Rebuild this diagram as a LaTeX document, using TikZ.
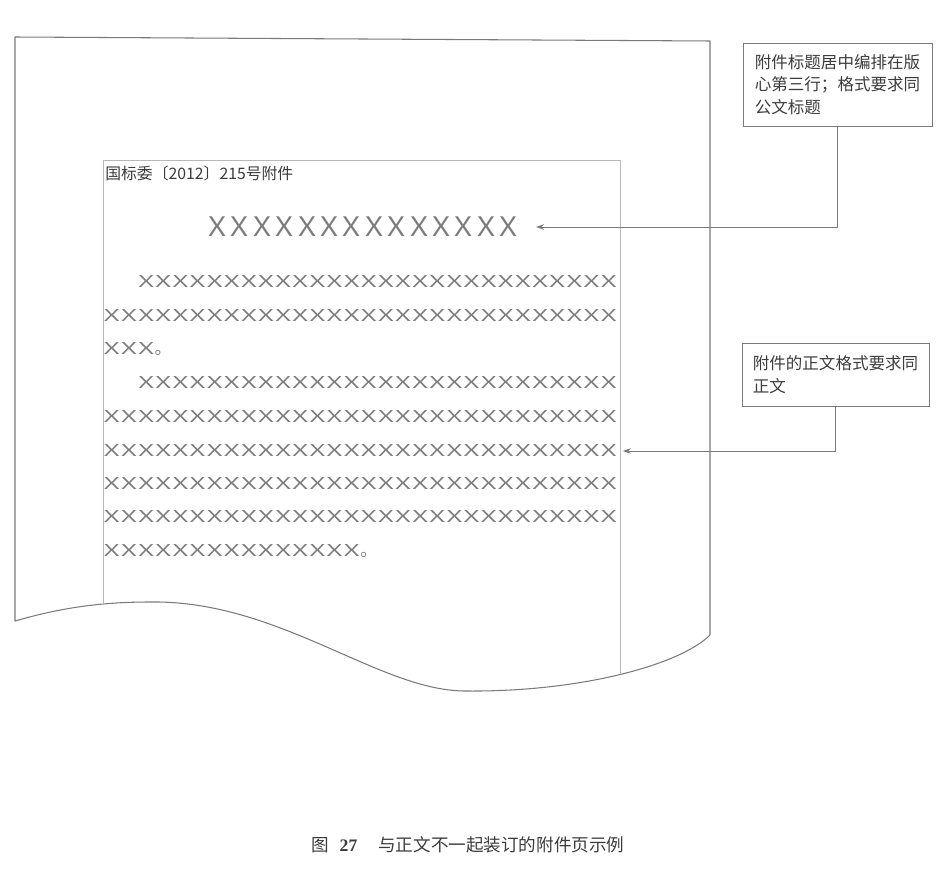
\documentclass[tikz,border=0pt]{standalone}
\usepackage{fontspec}
\usepackage{graphicx}
\usepackage{tikz}
\usetikzlibrary{arrows.meta}
\newfontfamily\cjk{Noto Sans CJK SC}
\newfontfamily\capfont{Liberation Serif}
\definecolor{cline}{HTML}{7A7A7A}
\definecolor{cfaint}{HTML}{B8B8B8}
\definecolor{ctext}{HTML}{3C3C3C}
\definecolor{cx}{HTML}{7C7C7C}
\newcommand\xc{\makebox[1em]{\scalebox{1.45}[0.95]{Ｘ}}}
\newcommand\xt{\makebox[1em]{\scalebox{1.25}[1.2]{Ｘ}}}
\newcommand\Xfive{\xc\xc\xc\xc\xc}
\newcommand\Xten{\Xfive\Xfive}

\begin{document}
\begin{tikzpicture}[x=0.02cm, y=-0.02cm,
 pg/.style={draw=cline, line width=0.6pt, line join=round},
 blk/.style={draw=cfaint, line width=0.4pt},
 hd/.style={anchor=west, inner sep=0pt, text=ctext, font=\cjk\fontsize{9}{11}\selectfont},
 ttl/.style={inner sep=0pt, text=cx, font=\cjk\fontsize{12.75}{15}\selectfont},
 bd/.style={anchor=west, inner sep=0pt, text=cx, font=\cjk\fontsize{9.75}{12}\selectfont},
 note/.style={rectangle, draw=cline, line width=0.5pt, align=left, text=ctext,
 inner sep=0pt, font=\cjk\fontsize{9.4}{12.8}\selectfont},
 a/.style={-{Stealth[length=1.6mm, width=1.1mm]}, draw=cline, line width=0.5pt},
]
 \useasboundingbox (0,0) rectangle (950,885);

 \draw[pg] (15,37) -- (710,41) -- (710,635) .. controls (680,665) and (580,692) .. (467,691)
 .. controls (380,692) and (280,600) .. (150,602) .. controls (100,602) and (60,608) .. (15,621) -- cycle;
 \begin{scope}
 \clip (15,37) -- (710,41) -- (710,635) .. controls (680,665) and (580,692) .. (467,691)
 .. controls (380,692) and (280,600) .. (150,602) .. controls (100,602) and (60,608) .. (15,621) -- cycle;
 \draw[blk] (103,160) rectangle (620,720);
 \end{scope}

 \node[hd] (HD) at (105,173) {国标委〔2012〕215号附件};
 \node[ttl] (TT) at (363,227) {\xt\xt\xt\xt\xt\xt\xt\xt\xt\xt\xt\xt\xt\xt};

 \node[bd] (B1) at (103,282) {\hspace*{2em}\Xten\Xten\Xfive\xc\xc\xc};
 \node[bd] (B2) at (103,315.6) {\Xten\Xten\Xten};
 \node[bd] (B3) at (103,349) {\xc\xc\xc。};
 \node[bd] (B4) at (103,383) {\hspace*{2em}\Xten\Xten\Xfive\xc\xc\xc};
 \node[bd] (B5) at (103,416.5) {\Xten\Xten\Xten};
 \node[bd] (B6) at (103,451) {\Xten\Xten\Xten};
 \node[bd] (B7) at (103,484) {\Xten\Xten\Xten};
 \node[bd] (B8) at (103,517) {\Xten\Xten\Xten};
 \node[bd] (B9) at (103,551) {\Xten\Xfive。};

 \node[note, minimum width=3.78cm, minimum height=1.66cm] (N1) at (837.5,84.5)
 {附件标题居中编排在版\\心第三行；格式要求同\\公文标题};
 \node[note, minimum width=3.74cm, minimum height=1.26cm] (N2) at (835.5,374.5)
 {附件的正文格式要求同\\正文};

 \draw[a, shorten >=9pt] (N1.south) |- (TT.east);
 \draw[a, shorten >=3pt] (N2.south) |- (B6.east);

 \node[inner sep=0pt, text=ctext, font=\cjk\fontsize{10}{12}\selectfont] (CAP) at (468,845)
 {图\hspace{0.6em}{\capfont\bfseries 27}\hspace{1.2em}与正文不一起装订的附件页示例};
\end{tikzpicture}
\end{document}
